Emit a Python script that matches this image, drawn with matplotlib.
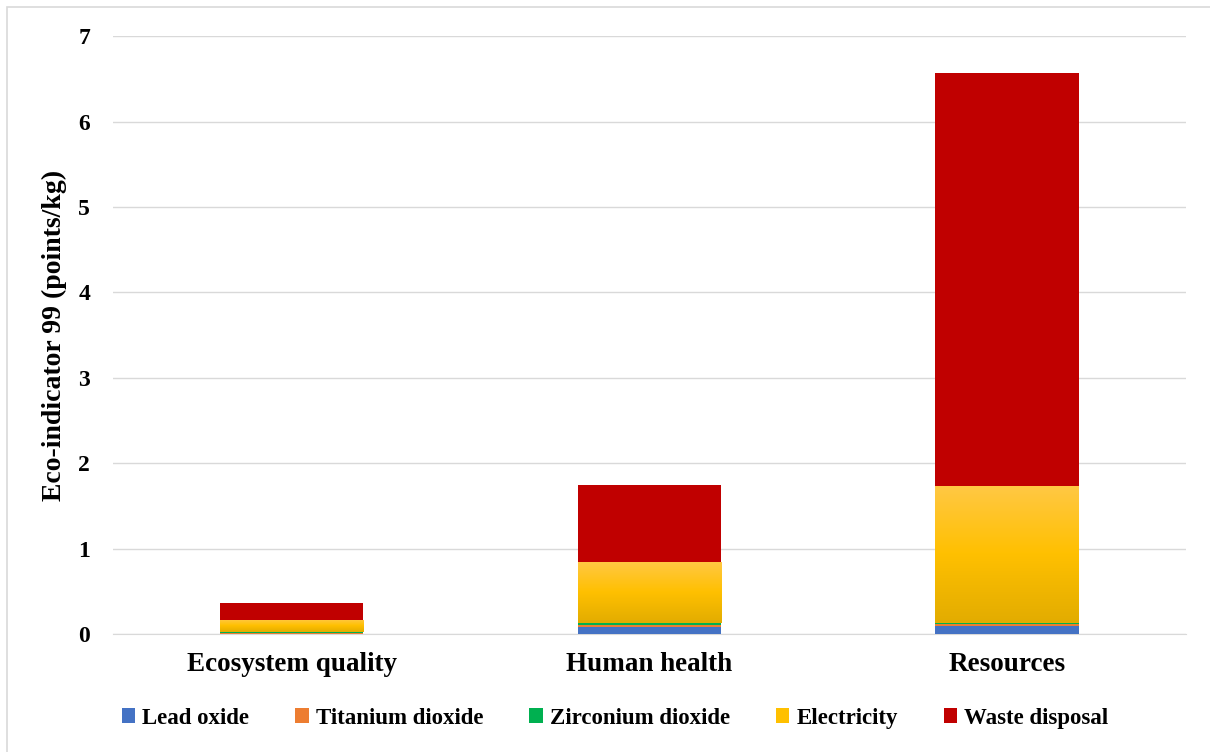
import numpy as np
import matplotlib.pyplot as plt
from matplotlib.patches import Rectangle
from matplotlib.colors import LinearSegmentedColormap

# values (points/kg)
categories = ["Ecosystem quality", "Human health", "Resources"]
lead_oxide = [0.005, 0.08, 0.095]
titanium_dioxide = [0.01, 0.02, 0.025]
zirconium_dioxide = [0.003, 0.025, 0.008]
electricity = [0.146, 0.718, 1.605]
waste_disposal = [0.199, 0.902, 4.837]

series = [("Lead oxide", lead_oxide, "#4472C4"),
          ("Titanium dioxide", titanium_dioxide, "#ED7D31"),
          ("Zirconium dioxide", zirconium_dioxide, "#00B050"),
          ("Electricity", electricity, "#FFC000"),
          ("Waste disposal", waste_disposal, "#C00000")]

plt.rcParams['font.family'] = ['Liberation Serif', 'DejaVu Serif']
plt.rcParams['font.weight'] = 'bold'

fig = plt.figure(figsize=(12.1, 7.52), dpi=100)
ax = fig.add_axes([0.0934, 0.157, 0.8866, 0.795])

x = np.arange(len(categories))
width = 0.4
bottom = np.zeros(len(categories))
yellow_grad = LinearSegmentedColormap.from_list("yg", ["#E2AC00", "#FFC000", "#FFC845"])
for name, vals, col in series:
    bars = ax.bar(x, vals, width, bottom=bottom, color=col, label=name, zorder=3)
    if name == "Electricity":
        # excel-like vertical gradient fill
        for b in bars:
            grad = np.linspace(0, 1, 256).reshape(-1, 1)
            im = ax.imshow(grad, cmap=yellow_grad, origin='lower', aspect='auto',
                           extent=(b.get_x(), b.get_x() + b.get_width(),
                                   b.get_y(), b.get_y() + b.get_height()), zorder=4)
            im.set_clip_path(b)
    bottom += np.array(vals)

ax.set_xlim(-0.5, 2.5)
ax.set_ylim(0, 7)
ax.set_yticks(range(0, 8))
ax.grid(axis='y', color='#D9D9D9', linewidth=1, zorder=0)
for s in ['top', 'right', 'left']:
    ax.spines[s].set_visible(False)
ax.spines['bottom'].set_color('#D9D9D9')
ax.tick_params(length=0)
ax.tick_params(axis='x', labelsize=19.5, pad=13)
ax.tick_params(axis='y', labelsize=17, pad=25)
ax.set_xticks(x)
ax.set_xticklabels(categories, fontweight='bold')
for t in ax.get_yticklabels():
    t.set_fontweight('bold')
    t.set_horizontalalignment('left')
ax.set_ylabel("Eco-indicator 99 (points/kg)", fontsize=20, fontweight='bold', labelpad=8)

ax.legend(loc='center', bbox_to_anchor=(0.468, -0.141), ncol=5, frameon=False,
          fontsize=16.5, handlelength=0.6, handleheight=0.6, handletextpad=0.3,
          columnspacing=2.0)

fig.patches.append(Rectangle((7 / 1210, -0.01), 1.02, 1 - 7 / 752 + 0.01,
                             transform=fig.transFigure, fill=False,
                             edgecolor='#D9D9D9', linewidth=1.2))

fig.savefig("out.png", dpi=100)
